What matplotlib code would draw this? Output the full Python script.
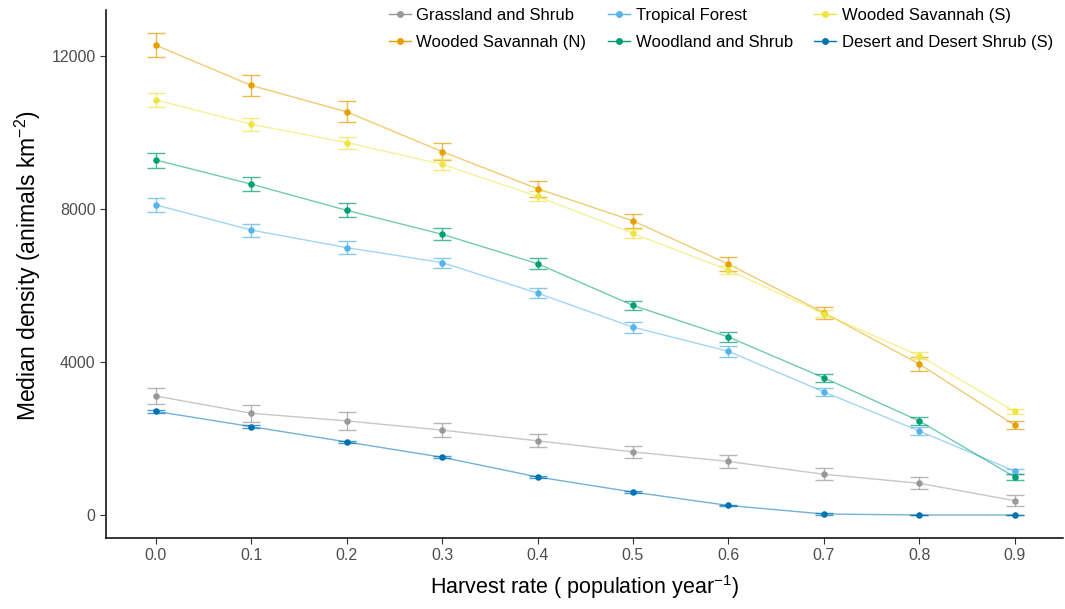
import matplotlib.pyplot as plt

plt.rcParams['font.family'] = ['Liberation Sans', 'DejaVu Sans']
plt.rcParams['mathtext.default'] = 'regular'

harvest = [0.0, 0.1, 0.2, 0.3, 0.4, 0.5, 0.6, 0.7, 0.8, 0.9]

grassland = [3110, 2660, 2460, 2220, 1940, 1650, 1400, 1065, 830, 375]
grassland_err = [213, 222, 227, 174, 174, 161, 161, 153, 153, 144]

wooded_n = [12280, 11230, 10540, 9500, 8530, 7690, 6560, 5290, 3950, 2350]
wooded_n_err = [314, 275, 275, 218, 209, 183, 183, 157, 174, 105]

tropical = [8105, 7450, 6990, 6600, 5800, 4910, 4280, 3220, 2200, 1150]
tropical_err = [180, 170, 161, 131, 135, 144, 140, 105, 96, 65]

woodland = [9280, 8650, 7965, 7340, 6570, 5480, 4655, 3590, 2460, 1000]
woodland_err = [196, 179, 183, 161, 144, 122, 122, 105, 105, 74]

wooded_s = [10850, 10215, 9735, 9170, 8330, 7365, 6400, 5265, 4165, 2710]
wooded_s_err = [183, 174, 157, 140, 130, 113, 110, 100, 87, 70]

desert = [2710, 2310, 1910, 1510, 995, 600, 250, 26, 0, 0]
desert_err = [40, 35, 30, 25, 25, 20, 20, 15, 10, 10]

# legend order follows matplotlib column-wise filling
series = [
    ("Grassland and Shrub", grassland, grassland_err, "#999999"),
    ("Wooded Savannah (N)", wooded_n, wooded_n_err, "#E69F00"),
    ("Tropical Forest", tropical, tropical_err, "#56B4E9"),
    ("Woodland and Shrub", woodland, woodland_err, "#009E73"),
    ("Wooded Savannah (S)", wooded_s, wooded_s_err, "#F0E442"),
    ("Desert and Desert Shrub (S)", desert, desert_err, "#0072B2"),
]

fig = plt.figure(figsize=(10.65, 6.09), dpi=100)
ax = fig.add_axes([0.0995, 0.1166, 0.8985, 0.867])

handles = []
for name, vals, err, col in series:
    ax.plot(harvest, vals, color=col, alpha=0.55, lw=1, zorder=2)
    ax.errorbar(harvest, vals, yerr=err, fmt='none', ecolor=col, alpha=0.7,
                elinewidth=1, capsize=6.5, capthick=1, zorder=3)
    ax.scatter(harvest, vals, color=col, s=22, zorder=4, linewidths=0)
    h, = ax.plot([], [], color=col, lw=1, marker='o', markersize=4, label=name)
    handles.append(h)

ax.set_xlim(-0.0524, 0.9507)
ax.set_ylim(-601, 13203)
ax.set_xticks(harvest)
ax.set_xticklabels([f"{x:.1f}" for x in harvest])
ax.set_yticks([0, 4000, 8000, 12000])

for s in ['top', 'right']:
    ax.spines[s].set_visible(False)
for s in ['left', 'bottom']:
    ax.spines[s].set_linewidth(1.1)
    ax.spines[s].set_color('black')
ax.tick_params(axis='both', direction='out', length=4, width=0.8,
               color='#333333', labelcolor='#4D4D4D', labelsize=11.5)

ax.set_xlabel("Harvest rate ( population year$^{-1}$)", fontsize=15.5, labelpad=7)
ax.set_ylabel("Median density (animals km$^{-2}$)", fontsize=16.5)
ax.yaxis.set_label_coords(-0.066, 0.515)

fig.legend(handles=handles, loc='upper right', bbox_to_anchor=(1.003, 1.012),
           ncol=3, frameon=False, fontsize=12, handlelength=1.3,
           handletextpad=0.35, columnspacing=1.3, labelspacing=0.75)

fig.savefig("out.png", dpi=100)
